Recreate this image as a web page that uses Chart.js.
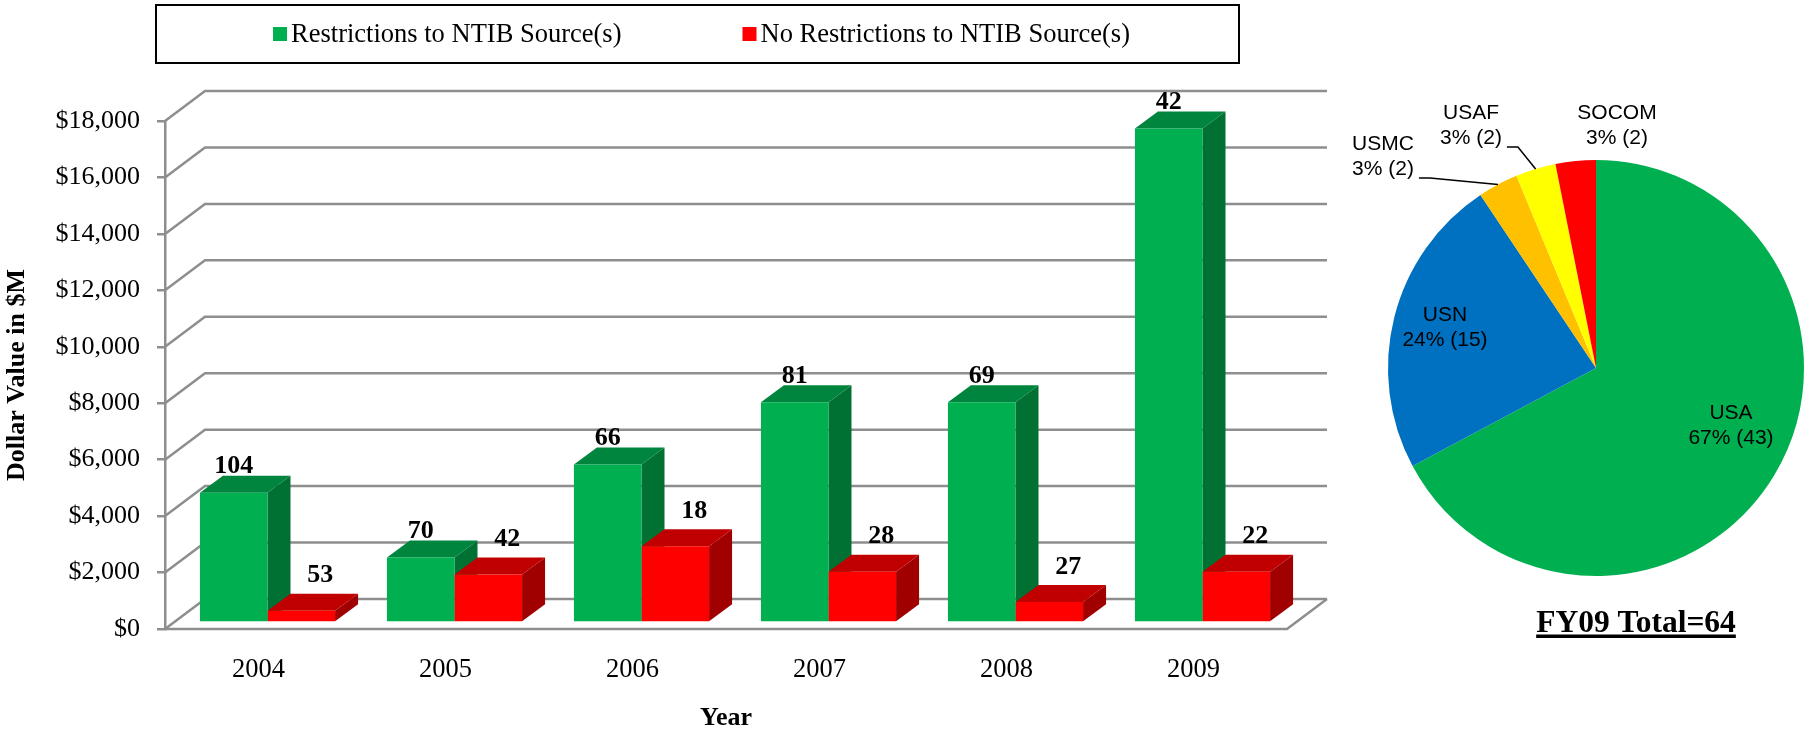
<!DOCTYPE html>
<html>
<head>
<meta charset="utf-8">
<title>NTIB restrictions by year and FY09 share by service</title>
<script src="https://cdn.jsdelivr.net/npm/chart.js@4.4.1/dist/chart.umd.min.js"></script>
<style>
  html, body { margin: 0; padding: 0; background: #ffffff; }
  #wrap { position: relative; width: 1805px; height: 734px; overflow: hidden; background: #ffffff; }
  #bars { position: absolute; left: 0; top: 0; }
  #pie  { position: absolute; left: 1340px; top: 0; }
</style>
</head>
<body>
<div id="wrap">
  <canvas id="bars" width="1340" height="734"></canvas>
  <canvas id="pie" width="465" height="734"></canvas>
</div>
<script>
// ---- data ----
const years = ['2004', '2005', '2006', '2007', '2008', '2009'];
const seriesNames = ['Restrictions to NTIB Source(s)', 'No Restrictions to NTIB Source(s)'];
// dollar value ($M) per year
const restrictedDollars   = [4600, 2300, 5600, 7800, 7800, 17500];
const unrestrictedDollars = [420, 1700, 2700, 1800, 730, 1800];
// number of actions per year (printed above each column)
const restrictedCounts   = [104, 70, 66, 81, 69, 42];
const unrestrictedCounts = [53, 42, 18, 28, 27, 22];
// value axis
const yMin = 0, yMax = 18000, yStep = 2000;

// FY09 breakdown by service
const services      = ['USA', 'USN', 'USMC', 'USAF', 'SOCOM'];
const serviceCounts = [43, 15, 2, 2, 2];
const servicePct    = [67, 24, 3, 3, 3];

// ---- styling ----
const SERIF = "'Liberation Serif', 'Times New Roman', serif";
const SANS = "'Liberation Sans', Arial, sans-serif";
const GRID = '#8e8e8e';
const barShades = [
  { front: '#00B050', top: '#00853E', side: '#007033' },
  { front: '#FF0000', top: '#C00000', side: '#A00000' }
];
const sliceColors = ['#00B050', '#0070C0', '#FFC000', '#FFFF00', '#FF0000'];

// oblique depth of the plot box and of the columns
const D = { wallX: 40, wallY: -30, shiftX: 9, shiftY: -6.5, barX: 23, barY: -17 };

// back wall, side-wall diagonals, floor and column depth faces
const box3d = {
  id: 'box3d',
  beforeDatasetsDraw(chart) {
    const { ctx, chartArea: a, scales: { y } } = chart;
    ctx.save();
    ctx.strokeStyle = GRID;
    ctx.lineWidth = 2.5;
    y.ticks.forEach(t => {
      const py = y.getPixelForValue(t.value);
      ctx.beginPath();
      ctx.moveTo(a.left, py);
      ctx.lineTo(a.left + D.wallX, py + D.wallY);
      ctx.lineTo(a.right + D.wallX, py + D.wallY);
      ctx.stroke();
    });
    const p0 = y.getPixelForValue(yMin);
    ctx.beginPath();
    ctx.moveTo(a.left, p0);
    ctx.lineTo(a.right, p0);
    ctx.lineTo(a.right + D.wallX, p0 + D.wallY);
    ctx.stroke();
    ctx.restore();

    // columns sit a little behind the front plane
    ctx.save();
    ctx.translate(D.shiftX, D.shiftY);
    const metas = chart.getSortedVisibleDatasetMetas();
    for (let i = 0; i < years.length; i++) {
      metas.forEach(meta => {
        const el = meta.data[i];
        const s = barShades[meta.index];
        const l = el.x - el.width / 2, r = el.x + el.width / 2, t = el.y, b = el.base;
        ctx.fillStyle = s.side;
        ctx.beginPath();
        ctx.moveTo(r, t);
        ctx.lineTo(r + D.barX, t + D.barY);
        ctx.lineTo(r + D.barX, b + D.barY);
        ctx.lineTo(r, b);
        ctx.closePath();
        ctx.fill();
        ctx.fillStyle = s.top;
        ctx.beginPath();
        ctx.moveTo(l, t);
        ctx.lineTo(r, t);
        ctx.lineTo(r + D.barX, t + D.barY);
        ctx.lineTo(l + D.barX, t + D.barY);
        ctx.closePath();
        ctx.fill();
      });
    }
  },
  afterDatasetsDraw(chart) {
    const { ctx } = chart;
    const counts = [restrictedCounts, unrestrictedCounts];
    ctx.font = 'bold 26px ' + SERIF;
    ctx.fillStyle = '#000';
    ctx.textAlign = 'center';
    ctx.textBaseline = 'middle';
    chart.getSortedVisibleDatasetMetas().forEach(meta => {
      meta.data.forEach((el, i) => {
        const txt = String(counts[meta.index][i]);
        if (meta.index === 0) ctx.fillText(txt, el.x, el.y - 26);
        else ctx.fillText(txt, el.x + 19, el.y - 35);
      });
    });
    ctx.restore();
  }
};

// framed legend across the top
const framedLegend = {
  id: 'framedLegend',
  afterDraw(chart) {
    const { ctx } = chart;
    const frame = { left: 156, top: 5, right: 1239, bottom: 63 };
    ctx.save();
    ctx.strokeStyle = '#000';
    ctx.lineWidth = 2;
    ctx.strokeRect(frame.left, frame.top, frame.right - frame.left, frame.bottom - frame.top);
    ctx.font = '26.5px ' + SERIF;
    ctx.textBaseline = 'middle';
    ctx.textAlign = 'left';
    const box = 14, gap = 4, itemGap = 121;
    const widths = seriesNames.map(n => box + gap + ctx.measureText(n).width);
    const total = widths.reduce((s, w) => s + w, 0) + itemGap * (widths.length - 1);
    let x = (frame.left + frame.right) / 2 + 4 - total / 2;
    const cy = (frame.top + frame.bottom) / 2;
    seriesNames.forEach((n, i) => {
      ctx.fillStyle = barShades[i].front;
      ctx.fillRect(x, cy - box / 2, box, box);
      ctx.fillStyle = '#000';
      ctx.fillText(n, x + box + gap, cy + 1);
      x += widths[i] + itemGap;
    });
    ctx.restore();
  }
};

const yTickValues = [];
for (let v = yMin; v <= yMax; v += yStep) yTickValues.push(v);

new Chart(document.getElementById('bars'), {
  type: 'bar',
  data: {
    labels: years,
    datasets: [
      { label: seriesNames[0], data: restrictedDollars, backgroundColor: barShades[0].front },
      { label: seriesNames[1], data: unrestrictedDollars, backgroundColor: barShades[1].front }
    ]
  },
  options: {
    responsive: false,
    animation: false,
    events: [],
    layout: { padding: { left: 0, top: 121, right: 53, bottom: 0 } },
    datasets: { bar: { categoryPercentage: 0.7226, barPercentage: 1.0, borderWidth: 0, clip: false } },
    plugins: { legend: { display: false }, tooltip: { enabled: false } },
    scales: {
      x: {
        grid: { display: false, drawTicks: false },
        border: { display: false },
        ticks: { color: '#000', font: { family: SERIF, size: 26.5 }, padding: 25 },
        title: { display: true, text: 'Year', color: '#000',
                 font: { family: SERIF, size: 26, weight: 'bold' }, padding: { top: 0, bottom: 0 } },
        afterFit(scale) { scale.height = 105; }
      },
      y: {
        min: yMin, max: yMax,
        afterBuildTicks(scale) { scale.ticks = yTickValues.map(v => ({ value: v })); },
        ticks: {
          color: '#000', font: { family: SERIF, size: 26 }, padding: 17,
          callback: v => '$' + Number(v).toLocaleString('en-US')
        },
        grid: { drawOnChartArea: false, drawTicks: true, tickLength: 8, color: GRID, lineWidth: 2.5 },
        border: { display: true, color: GRID, width: 2.5 },
        title: { display: true, text: 'Dollar Value in $M', color: '#000',
                 font: { family: SERIF, size: 26, weight: 'bold' }, padding: { top: 2, bottom: 0 } },
        afterFit(scale) { scale.width = 165; }
      }
    }
  },
  plugins: [box3d, framedLegend]
});

// ---- FY09 pie ----
// label anchors in units of the pie radius, relative to its centre
const sliceLabelSpots = [
  { dx: 0.649, dy: 0.276, leader: false },
  { dx: -0.726, dy: -0.192, leader: false },
  { dx: -1.024, dy: -1.017, leader: true },
  { dx: -0.601, dy: -1.166, leader: true },
  { dx: 0.101, dy: -1.166, leader: false }
];

const sliceLabels = {
  id: 'sliceLabels',
  afterDraw(chart) {
    const { ctx } = chart;
    const arcs = chart.getDatasetMeta(0).data;
    const cx = arcs[0].x, cy = arcs[0].y, R = arcs[0].outerRadius;
    ctx.save();
    ctx.font = '21px ' + SANS;
    ctx.fillStyle = '#000';
    ctx.textAlign = 'center';
    ctx.textBaseline = 'middle';
    const half = 12.5;
    arcs.forEach((arc, i) => {
      const spot = sliceLabelSpots[i];
      const lx = cx + spot.dx * R, ly = cy + spot.dy * R;
      const line2 = servicePct[i] + '% (' + serviceCounts[i] + ')';
      ctx.fillText(services[i], lx, ly - half);
      ctx.fillText(line2, lx, ly + half);
      if (spot.leader) {
        const w = ctx.measureText(line2).width;
        const sx = lx + w / 2 + 5, sy = ly + half + 9;
        const mid = (arc.startAngle + arc.endAngle) / 2;
        ctx.strokeStyle = '#000';
        ctx.lineWidth = 1.5;
        ctx.beginPath();
        ctx.moveTo(sx, sy);
        ctx.lineTo(sx + 11, sy);
        ctx.lineTo(cx + Math.cos(mid) * R, cy + Math.sin(mid) * R);
        ctx.stroke();
      }
    });
    // total caption
    const total = serviceCounts.reduce((s, v) => s + v, 0);
    const caption = 'FY09 Total=' + total;
    ctx.font = 'bold 31.5px ' + SERIF;
    ctx.textAlign = 'center';
    ctx.textBaseline = 'alphabetic';
    const capX = 296, capY = 632;
    ctx.fillText(caption, capX, capY);
    const cw = ctx.measureText(caption).width;
    ctx.fillRect(capX - cw / 2, capY + 2.5, cw, 3.5);
    ctx.restore();
  }
};

new Chart(document.getElementById('pie'), {
  type: 'pie',
  data: {
    labels: services,
    datasets: [{ data: serviceCounts, backgroundColor: sliceColors, borderWidth: 0 }]
  },
  options: {
    responsive: false,
    animation: false,
    events: [],
    rotation: 0,
    layout: { padding: { left: 48, right: 1, top: 160, bottom: 158 } },
    plugins: { legend: { display: false }, tooltip: { enabled: false } }
  },
  plugins: [sliceLabels]
});
</script>
</body>
</html>
